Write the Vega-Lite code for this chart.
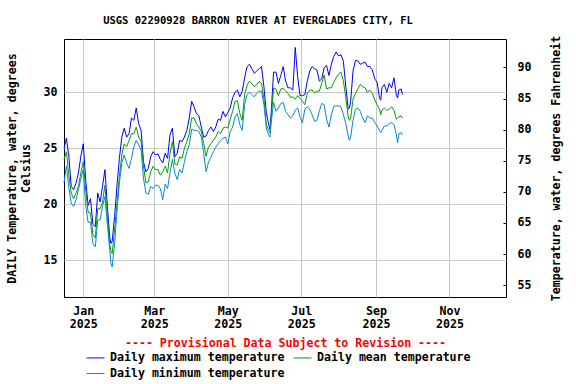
{
"$schema": "https://vega.github.io/schema/vega-lite/v6.json",
"width": 442, "height": 258,
"autosize": "none",
"padding": {"left": 64, "top": 39, "right": 70, "bottom": 87},
"background": "white",
"title": {"text": "USGS 02290928 BARRON RIVER AT EVERGLADES CITY, FL", "font": "DejaVu Sans Mono", "fontSize": 10.5, "fontWeight": "bold", "anchor": "middle", "dx": -27, "offset": -1, "baseline": "bottom", "color": "black"},
"config": {"view": {"stroke": "black", "strokeWidth": 1}, "font": "DejaVu Sans Mono"},
"layer": [
{
"data": {"values": [
{"date":"2024-12-16","max":25.0,"mean":24.0,"min":21.9},
{"date":"2024-12-18","max":25.9,"mean":24.7,"min":23.4},
{"date":"2024-12-20","max":24.3,"mean":22.6,"min":21.5},
{"date":"2024-12-22","max":21.6,"mean":21.0,"min":20.1},
{"date":"2024-12-24","max":21.3,"mean":20.5,"min":19.8},
{"date":"2024-12-26","max":21.9,"mean":21.0,"min":20.4},
{"date":"2024-12-28","max":22.8,"mean":21.6,"min":21.3},
{"date":"2024-12-30","max":24.3,"mean":22.8,"min":22.3},
{"date":"2025-01-01","max":25.4,"mean":23.8,"min":23.1},
{"date":"2025-01-03","max":22.2,"mean":21.3,"min":19.9},
{"date":"2025-01-05","max":19.9,"mean":19.3,"min":18.4},
{"date":"2025-01-07","max":20.5,"mean":19.2,"min":18.4},
{"date":"2025-01-09","max":18.2,"mean":17.3,"min":16.5},
{"date":"2025-01-11","max":18.0,"mean":17.0,"min":16.2},
{"date":"2025-01-13","max":21.0,"mean":19.6,"min":18.6},
{"date":"2025-01-15","max":20.2,"mean":19.6,"min":18.6},
{"date":"2025-01-17","max":21.6,"mean":20.2,"min":19.8},
{"date":"2025-01-19","max":23.1,"mean":21.7,"min":20.7},
{"date":"2025-01-21","max":19.8,"mean":18.9,"min":18.2},
{"date":"2025-01-23","max":17.0,"mean":16.4,"min":15.9},
{"date":"2025-01-24","max":16.5,"mean":15.8,"min":14.7},
{"date":"2025-01-25","max":16.7,"mean":15.6,"min":14.4},
{"date":"2025-01-27","max":18.9,"mean":17.7,"min":16.5},
{"date":"2025-01-29","max":21.7,"mean":20.1,"min":19.4},
{"date":"2025-01-31","max":24.1,"mean":22.5,"min":21.9},
{"date":"2025-02-02","max":26.0,"mean":24.4,"min":23.7},
{"date":"2025-02-04","max":26.8,"mean":25.4,"min":24.4},
{"date":"2025-02-06","max":26.0,"mean":25.15,"min":23.7},
{"date":"2025-02-08","max":26.3,"mean":25.7,"min":23.2},
{"date":"2025-02-10","max":27.7,"mean":26.3,"min":24.1},
{"date":"2025-02-12","max":27.5,"mean":26.3,"min":25.15},
{"date":"2025-02-14","max":28.6,"mean":26.9,"min":25.7},
{"date":"2025-02-16","max":27.2,"mean":26.0,"min":25.3},
{"date":"2025-02-18","max":26.6,"mean":25.6,"min":24.85},
{"date":"2025-02-20","max":23.8,"mean":23.4,"min":22.3},
{"date":"2025-02-22","max":22.9,"mean":21.9,"min":21.0},
{"date":"2025-02-24","max":23.2,"mean":22.0,"min":20.9},
{"date":"2025-02-26","max":24.25,"mean":22.9,"min":21.6},
{"date":"2025-02-28","max":24.7,"mean":23.4,"min":21.4},
{"date":"2025-03-02","max":24.4,"mean":23.1,"min":21.7},
{"date":"2025-03-04","max":24.5,"mean":23.1,"min":21.7},
{"date":"2025-03-06","max":24.0,"mean":22.6,"min":21.4},
{"date":"2025-03-08","max":23.7,"mean":22.9,"min":20.4},
{"date":"2025-03-10","max":24.55,"mean":23.4,"min":21.8},
{"date":"2025-03-12","max":24.1,"mean":22.8,"min":21.4},
{"date":"2025-03-14","max":26.2,"mean":24.55,"min":22.8},
{"date":"2025-03-16","max":26.8,"mean":25.6,"min":24.0},
{"date":"2025-03-18","max":24.25,"mean":23.6,"min":22.8},
{"date":"2025-03-20","max":24.55,"mean":23.5,"min":22.2},
{"date":"2025-03-22","max":25.7,"mean":24.25,"min":23.1},
{"date":"2025-03-24","max":25.6,"mean":24.1,"min":22.8},
{"date":"2025-03-26","max":26.0,"mean":25.0,"min":23.8},
{"date":"2025-03-28","max":26.6,"mean":25.6,"min":24.7},
{"date":"2025-03-30","max":27.7,"mean":26.3,"min":25.3},
{"date":"2025-04-01","max":29.2,"mean":27.7,"min":26.7},
{"date":"2025-04-03","max":28.7,"mean":27.7,"min":26.6},
{"date":"2025-04-05","max":28.1,"mean":27.2,"min":26.6},
{"date":"2025-04-07","max":27.9,"mean":26.9,"min":26.5},
{"date":"2025-04-09","max":26.9,"mean":26.5,"min":26.0},
{"date":"2025-04-11","max":26.0,"mean":25.4,"min":24.55},
{"date":"2025-04-13","max":26.1,"mean":24.3,"min":22.9},
{"date":"2025-04-15","max":26.6,"mean":25.15,"min":23.8},
{"date":"2025-04-17","max":26.9,"mean":25.4,"min":24.2},
{"date":"2025-04-19","max":26.5,"mean":25.7,"min":24.7},
{"date":"2025-04-21","max":26.9,"mean":26.0,"min":25.1},
{"date":"2025-04-23","max":27.6,"mean":26.5,"min":25.4},
{"date":"2025-04-25","max":27.5,"mean":26.3,"min":25.7},
{"date":"2025-04-27","max":28.3,"mean":26.8,"min":25.9},
{"date":"2025-04-29","max":27.8,"mean":26.9,"min":26.0},
{"date":"2025-05-01","max":28.2,"mean":26.8,"min":25.4},
{"date":"2025-05-03","max":28.6,"mean":27.6,"min":26.5},
{"date":"2025-05-05","max":29.5,"mean":28.3,"min":26.9},
{"date":"2025-05-07","max":30.0,"mean":29.2,"min":27.8},
{"date":"2025-05-09","max":30.2,"mean":29.25,"min":28.1},
{"date":"2025-05-11","max":29.6,"mean":28.1,"min":27.1},
{"date":"2025-05-13","max":30.1,"mean":27.5,"min":26.6},
{"date":"2025-05-15","max":31.3,"mean":29.8,"min":28.9},
{"date":"2025-05-17","max":32.3,"mean":30.65,"min":29.8},
{"date":"2025-05-19","max":32.5,"mean":31.0,"min":30.0},
{"date":"2025-05-21","max":32.1,"mean":30.8,"min":29.8},
{"date":"2025-05-23","max":31.7,"mean":30.5,"min":29.6},
{"date":"2025-05-25","max":31.9,"mean":30.7,"min":29.9},
{"date":"2025-05-27","max":32.1,"mean":30.95,"min":30.1},
{"date":"2025-05-29","max":32.3,"mean":30.8,"min":30.1},
{"date":"2025-05-31","max":30.5,"mean":29.4,"min":28.9},
{"date":"2025-06-02","max":28.2,"mean":27.1,"min":26.8},
{"date":"2025-06-04","max":27.1,"mean":26.6,"min":26.2},
{"date":"2025-06-05","max":26.7,"mean":26.4,"min":26.0},
{"date":"2025-06-06","max":28.1,"mean":27.7,"min":27.2},
{"date":"2025-06-08","max":31.8,"mean":30.35,"min":29.1},
{"date":"2025-06-10","max":31.8,"mean":30.3,"min":28.3},
{"date":"2025-06-12","max":30.8,"mean":29.7,"min":28.6},
{"date":"2025-06-14","max":31.5,"mean":30.3,"min":29.0},
{"date":"2025-06-16","max":32.3,"mean":30.35,"min":29.1},
{"date":"2025-06-18","max":31.0,"mean":30.15,"min":28.3},
{"date":"2025-06-20","max":30.4,"mean":29.9,"min":28.0},
{"date":"2025-06-22","max":30.4,"mean":29.55,"min":27.7},
{"date":"2025-06-24","max":30.2,"mean":29.6,"min":27.9},
{"date":"2025-06-26","max":34.0,"mean":29.4,"min":28.4},
{"date":"2025-06-28","max":31.4,"mean":29.7,"min":28.6},
{"date":"2025-06-30","max":29.7,"mean":29.46,"min":27.8},
{"date":"2025-07-02","max":29.7,"mean":29.2,"min":27.3},
{"date":"2025-07-04","max":29.8,"mean":28.9,"min":28.5},
{"date":"2025-07-06","max":31.0,"mean":29.9,"min":28.7},
{"date":"2025-07-08","max":31.9,"mean":30.2,"min":28.5},
{"date":"2025-07-10","max":32.3,"mean":30.2,"min":28.0},
{"date":"2025-07-12","max":32.1,"mean":29.95,"min":27.4},
{"date":"2025-07-14","max":32.0,"mean":30.1,"min":27.5},
{"date":"2025-07-16","max":31.0,"mean":30.1,"min":28.3},
{"date":"2025-07-18","max":31.2,"mean":30.8,"min":29.0},
{"date":"2025-07-20","max":32.2,"mean":31.55,"min":28.9},
{"date":"2025-07-22","max":32.4,"mean":30.3,"min":27.6},
{"date":"2025-07-24","max":31.5,"mean":30.4,"min":26.9},
{"date":"2025-07-26","max":32.5,"mean":30.4,"min":28.0},
{"date":"2025-07-28","max":33.2,"mean":30.9,"min":28.75},
{"date":"2025-07-30","max":33.6,"mean":31.3,"min":28.8},
{"date":"2025-08-01","max":33.25,"mean":31.65,"min":28.8},
{"date":"2025-08-03","max":33.35,"mean":31.8,"min":28.7},
{"date":"2025-08-05","max":32.75,"mean":31.0,"min":28.0},
{"date":"2025-08-07","max":30.5,"mean":29.5,"min":27.2},
{"date":"2025-08-09","max":28.5,"mean":27.8,"min":26.1},
{"date":"2025-08-10","max":28.6,"mean":27.5,"min":25.7},
{"date":"2025-08-11","max":29.2,"mean":27.7,"min":26.0},
{"date":"2025-08-13","max":31.9,"mean":29.4,"min":27.5},
{"date":"2025-08-15","max":32.85,"mean":29.9,"min":28.5},
{"date":"2025-08-17","max":32.8,"mean":30.3,"min":28.6},
{"date":"2025-08-19","max":32.5,"mean":30.7,"min":28.3},
{"date":"2025-08-21","max":32.6,"mean":30.5,"min":27.7},
{"date":"2025-08-23","max":32.7,"mean":30.4,"min":27.3},
{"date":"2025-08-25","max":32.3,"mean":30.0,"min":27.9},
{"date":"2025-08-27","max":32.3,"mean":30.2,"min":27.7},
{"date":"2025-08-29","max":32.0,"mean":29.9,"min":27.7},
{"date":"2025-08-31","max":31.2,"mean":29.3,"min":27.3},
{"date":"2025-09-02","max":30.9,"mean":28.9,"min":27.0},
{"date":"2025-09-04","max":29.5,"mean":28.5,"min":26.6},
{"date":"2025-09-05","max":29.3,"mean":28.0,"min":26.4},
{"date":"2025-09-06","max":30.4,"mean":28.4,"min":26.6},
{"date":"2025-09-08","max":30.7,"mean":28.6,"min":27.0},
{"date":"2025-09-10","max":30.0,"mean":28.4,"min":27.0},
{"date":"2025-09-12","max":30.8,"mean":28.5,"min":27.2},
{"date":"2025-09-14","max":30.4,"mean":28.7,"min":27.3},
{"date":"2025-09-16","max":31.3,"mean":28.4,"min":27.1},
{"date":"2025-09-18","max":29.7,"mean":27.6,"min":26.2},
{"date":"2025-09-19","max":29.5,"mean":27.7,"min":25.5},
{"date":"2025-09-20","max":30.2,"mean":27.8,"min":26.3},
{"date":"2025-09-22","max":30.3,"mean":27.9,"min":26.4},
{"date":"2025-09-23","max":29.8,"mean":27.7,"min":26.2}
]},
"transform": [{"fold": ["max", "mean", "min"], "as": ["series", "temp"]}],
"mark": {"type": "line", "strokeWidth": 1},
"encoding": {
"x": {"field": "date", "type": "temporal",
 "scale": {"type": "utc", "domain": [{"year": 2024, "month": 12, "date": 16, "utc": true}, {"year": 2025, "month": 12, "date": 18, "utc": true}]},
 "axis": {
  "values": [{"year": 2025, "month": 1, "date": 1, "utc": true}, {"year": 2025, "month": 3, "date": 1, "utc": true}, {"year": 2025, "month": 5, "date": 1, "utc": true}, {"year": 2025, "month": 7, "date": 1, "utc": true}, {"year": 2025, "month": 9, "date": 1, "utc": true}, {"year": 2025, "month": 11, "date": 1, "utc": true}],
  "labelExpr": "[utcFormat(datum.value, '%b'), utcFormat(datum.value, '%Y')]",
  "labelFont": "DejaVu Sans Mono", "labelFontSize": 11.6, "labelFontWeight": "bold", "labelColor": "black",
  "labelPadding": 8, "labelLineHeight": 13, "labelOverlap": false, "labelFlush": false,
  "ticks": false, "domain": false, "grid": true, "gridColor": "#c8c8c8", "gridWidth": 1,
  "title": "---- Provisional Data Subject to Revision ----",
  "titleColor": "#ff0000", "titleFont": "DejaVu Sans Mono", "titleFontSize": 11.6, "titleFontWeight": "bold",
  "titleBaseline": "middle", "titleY": 46
 }},
"y": {"field": "temp", "type": "quantitative",
 "scale": {"domain": [11.72, 34.76], "nice": false, "zero": false},
 "axis": {
  "values": [15, 20, 25, 30],
  "labelFont": "DejaVu Sans Mono", "labelFontSize": 11.6, "labelFontWeight": "bold", "labelColor": "black", "labelPadding": 7,
  "ticks": false, "domain": false, "grid": true, "gridColor": "#c8c8c8", "gridWidth": 1,
  "title": ["DAILY Temperature, water, degrees", "Celsius"],
  "titleFont": "DejaVu Sans Mono", "titleFontSize": 11.6, "titleFontWeight": "bold", "titleColor": "black", "titlePadding": 12
 }},
"color": {"field": "series", "type": "nominal",
 "scale": {"domain": ["max", "min", "mean"], "range": ["#0000ff", "#0a88d0", "#00a000"]},
 "legend": {
  "orient": "none", "legendX": 22, "legendY": 309, "columns": 2, "title": null, "padding": 0,
  "symbolType": "stroke", "symbolSize": 324, "symbolStrokeWidth": 1,
  "labelFont": "DejaVu Sans Mono", "labelFontSize": 11.6, "labelFontWeight": "bold", "labelColor": "black", "labelLimit": 0,
  "labelOffset": 5, "columnPadding": 6, "rowPadding": -2,
  "labelExpr": "datum.label == 'max' ? 'Daily maximum temperature' : datum.label == 'mean' ? 'Daily mean temperature' : 'Daily minimum temperature'"
 }}
}
},
{
"data": {"values": [{"f": 55}, {"f": 90}]},
"mark": {"type": "rule", "opacity": 0},
"encoding": {
"y": {"field": "f", "type": "quantitative",
 "scale": {"domain": [53.1, 94.57], "nice": false, "zero": false},
 "axis": {
  "orient": "right", "values": [55, 60, 65, 70, 75, 80, 85, 90],
  "labelFont": "DejaVu Sans Mono", "labelFontSize": 11.6, "labelFontWeight": "bold", "labelColor": "black",
  "ticks": true, "tickSize": -3, "tickColor": "black", "labelPadding": 14,
  "domain": false, "grid": false,
  "title": "Temperature, water, degrees Fahrenheit",
  "titleFont": "DejaVu Sans Mono", "titleFontSize": 11.6, "titleFontWeight": "bold", "titleColor": "black",
  "titleAngle": -90, "titlePadding": 31
 }}
}
}
],
"resolve": {"scale": {"y": "independent"}}
}
